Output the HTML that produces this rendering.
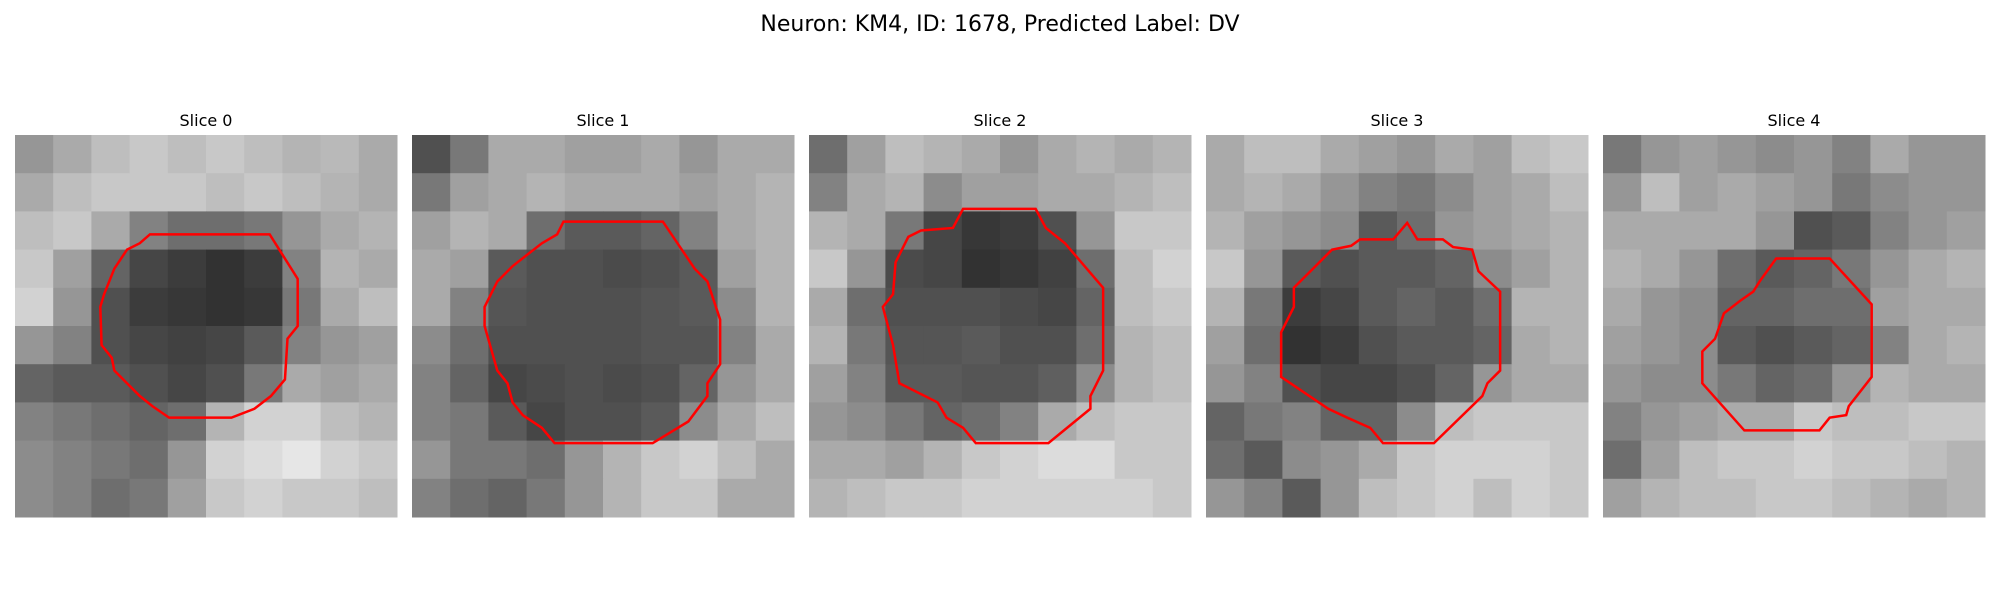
<!DOCTYPE html>
<html><head><meta charset="utf-8"><style>
html,body{margin:0;padding:0;background:#fff;}
svg text{font-family:"DejaVu Sans","Liberation Sans",sans-serif;fill:#000;}
</style></head><body>
<svg id="fig" width="2000" height="600" xmlns="http://www.w3.org/2000/svg">
<text x="1000" y="31" font-size="22" text-anchor="middle">Neuron: KM4, ID: 1678, Predicted Label: DV</text>
<g id="panels"></g>
</svg>
<script>
const sliceTitles=["Slice 0","Slice 1","Slice 2","Slice 3","Slice 4"];
const grid0=[[150,170,190,200,190,200,190,180,185,170],[170,190,200,200,200,190,200,190,180,170],[190,200,170,130,110,110,120,150,170,180],[200,160,100,70,60,50,60,130,180,170],[210,150,80,60,55,50,55,120,170,190],[150,130,80,70,65,70,90,130,150,160],[100,90,90,80,70,80,120,170,160,170],[130,120,110,100,110,180,210,210,190,180],[140,130,120,110,150,210,220,230,210,200],[140,130,110,120,160,200,210,200,200,190]];
const grid1=[[80,120,170,170,160,160,170,150,170,170],[120,160,170,180,170,170,170,160,170,180],[160,180,170,110,90,90,100,130,170,180],[170,160,90,80,80,75,80,90,160,180],[170,130,85,80,80,80,85,90,140,180],[140,110,80,80,80,80,85,85,130,170],[130,100,70,75,80,75,80,100,150,170],[130,120,90,70,80,80,90,140,170,190],[150,120,120,110,150,180,200,210,190,170],[130,110,100,120,150,180,200,200,170,170]];
const grid2=[[110,160,190,180,170,150,170,180,170,180],[130,170,180,140,160,160,170,170,180,190],[180,170,120,70,55,60,80,150,200,200],[200,150,75,70,50,55,65,110,190,210],[170,110,80,80,80,75,70,100,190,200],[180,120,85,85,90,80,80,110,180,190],[160,130,90,90,85,85,95,140,180,190],[150,140,120,100,110,130,170,190,200,200],[170,170,160,180,200,210,220,220,200,200],[180,190,200,200,210,210,210,210,210,200]];
const grid3=[[170,190,190,170,160,150,170,160,190,200],[170,180,170,150,130,120,140,160,170,190],[180,160,150,140,90,110,150,160,170,180],[200,150,90,80,90,90,100,140,160,180],[180,120,60,70,90,100,90,110,180,180],[160,110,50,60,80,90,90,100,170,180],[150,130,80,70,70,80,100,150,170,170],[100,120,130,100,100,140,190,200,200,200],[110,90,140,150,170,200,210,210,210,200],[150,130,90,150,190,200,210,190,210,200]];
const grid4=[[120,150,160,150,140,150,130,170,150,150],[150,190,160,170,160,150,120,140,150,150],[170,170,170,170,150,80,90,130,150,160],[180,170,150,110,90,100,120,150,170,180],[170,150,140,100,100,110,110,160,170,170],[160,150,140,90,80,90,100,130,170,180],[150,140,140,120,100,110,150,180,170,170],[130,150,160,170,170,200,190,190,200,200],[110,160,190,200,200,210,200,200,190,180],[160,180,190,190,200,200,190,180,170,180]];
const contour0=[[10.6,7.8],[20,7.8],[22.2,11.3],[22.2,15],[21.4,16],[21.2,19.2],[20.1,20.5],[18.8,21.5],[17,22.2],[12.1,22.2],[10.8,21.3],[9.8,20.5],[7.8,18.5],[7.6,17.5],[6.8,16.5],[6.7,13.5],[7,12.5],[7.8,10.5],[8.8,9],[9.8,8.5]];
const contour1=[[11.9,6.8],[19.7,6.8],[22.2,10.5],[23.2,11.5],[24.2,14.5],[24.2,18],[23.2,19.5],[23.2,20.5],[21.7,22.5],[18.9,24.2],[11.2,24.2],[10.2,23],[8.7,22],[7.9,21],[7.5,19.5],[6.7,18.5],[5.7,15],[5.7,13.5],[6.7,11.5],[7.9,10.3],[10.2,8.5],[11.4,7.8]];
const contour2=[[12.1,5.8],[17.8,5.8],[18.6,7.3],[20.1,8.5],[23.1,12],[23.1,18.5],[22.1,20.5],[22.1,21.5],[18.8,24.2],[13.1,24.2],[12.1,23],[10.8,22.2],[10.1,21],[7.1,19.5],[6.6,16.5],[5.8,13.5],[6.6,12.5],[6.8,10],[7.8,8],[8.8,7.5],[11.3,7.3]];
const contour3=[[12.1,8.2],[14.7,8.2],[15.8,6.9],[16.6,8.2],[18.6,8.2],[19.4,8.8],[20.9,9],[21.4,10.7],[23.1,12.3],[23.1,18.5],[22.1,19.5],[21.7,20.5],[17.9,24.2],[13.9,24.2],[12.9,23],[11.1,22.2],[9.6,21.5],[5.9,19],[5.9,15.5],[6.9,13.5],[6.9,12],[8.4,10.5],[9.9,9],[11.4,8.7]];
const contour4=[[13.6,9.7],[17.8,9.7],[21.1,13.3],[21.1,19],[19.3,21.3],[19.1,22],[17.8,22.2],[17,23.2],[11.1,23.2],[7.8,19.5],[7.8,17],[8.8,16],[9.5,14],[10.8,13],[11.8,12.3],[12.3,11.5]];
const grids=[grid0,grid1,grid2,grid3,grid4];
const contours=[contour0,contour1,contour2,contour3,contour4];
const NS="http://www.w3.org/2000/svg";
const panelX0=15, panelStep=397, panelTop=135, panelSize=382, imgUnits=30;
function sx(p,u){return panelX0+p*panelStep+u*panelSize/imgUnits;}
function sy(u){return panelTop+u*panelSize/imgUnits;}
const root=document.getElementById('panels');
for(let p=0;p<5;p++){
  const g=document.createElementNS(NS,'g');
  
  
  root.appendChild(g);
  const t=document.createElementNS(NS,'text');
  
  
  t.setAttribute('x',sx(p,15));t.setAttribute('y',126);
  t.setAttribute('font-size','16');t.setAttribute('text-anchor','middle');
  t.textContent=sliceTitles[p];g.appendChild(t);
  const grid=grids[p];const n=grid.length;const cu=imgUnits/n;
  for(let r=0;r<n;r++)for(let c=0;c<grid[r].length;c++){
    const v=grid[r][c];
    const rect=document.createElementNS(NS,'rect');
    
    
    const x1=sx(p,c*cu),x2=sx(p,(c+1)*cu),y1=sy(r*cu),y2=sy((r+1)*cu);
    rect.setAttribute('x',x1);rect.setAttribute('y',y1);
    rect.setAttribute('width',x2-x1+0.5);rect.setAttribute('height',y2-y1+0.5);
    rect.setAttribute('fill','rgb('+v+','+v+','+v+')');
    g.appendChild(rect);
  }
  const poly=document.createElementNS(NS,'polygon');
  
  
  poly.setAttribute('points',contours[p].map(q=>sx(p,q[0])+','+sy(q[1])).join(' '));
  poly.setAttribute('fill','none');poly.setAttribute('stroke','#ff0000');poly.setAttribute('stroke-width','2.5');
  g.appendChild(poly);
}
</script>
</body></html>
